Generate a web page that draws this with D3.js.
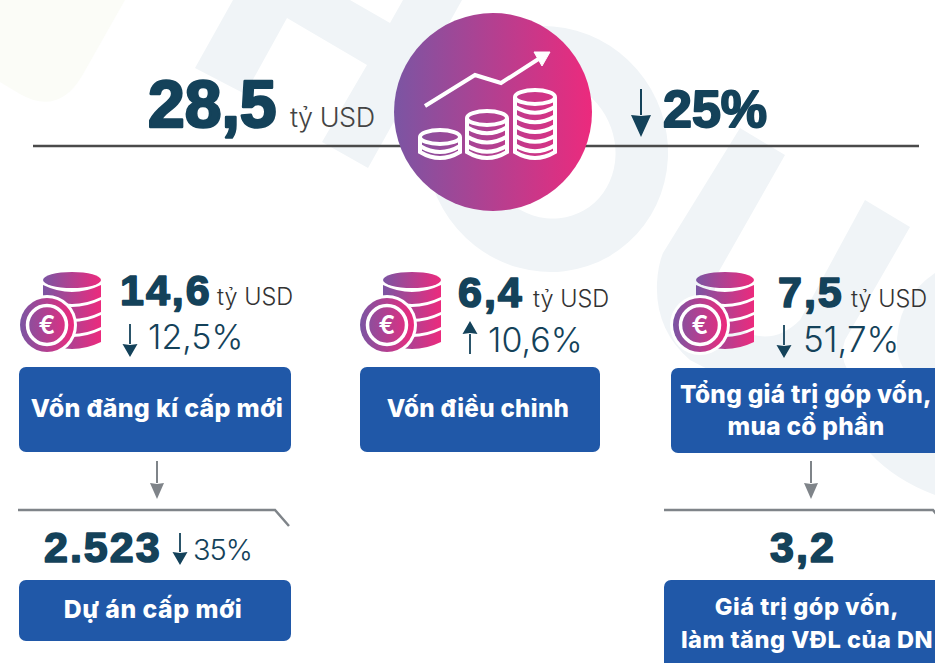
<!DOCTYPE html>
<html>
<head>
<meta charset="utf-8">
<script src="https://cdn.jsdelivr.net/npm/d3@7"></script>
<style>
    html, body { margin: 0; padding: 0; background: #fff; overflow: hidden; }
    text { font-family: Inter, "Noto Sans", sans-serif; }
    text.num { font-family: "Liberation Sans", Arial, sans-serif; font-weight: 700; }
</style>
</head>
<body>
<div id="chart"></div>
<script>
// chart values
var totalValue = "28,5";
var totalUnit = "tỷ USD";
var totalChange = "25%";
var totalDirection = "down";

var groupValues = ["14,6", "6,4", "7,5"];
var groupChanges = ["12,5%", "10,6%", "51,7%"];
var groupDirections = ["down", "up", "down"];
var groupLabels = [
    ["Vốn đăng kí cấp mới"],
    ["Vốn điều chỉnh"],
    ["Tổng giá trị góp vốn,", "mua cổ phần"]
];

var subValues = ["2.523", "3,2"];
var subChanges = ["35%", ""];
var subDirections = ["down", ""];
var subLabels = [
    ["Dự án cấp mới"],
    ["Giá trị góp vốn,", "làm tăng VĐL của DN"]
];

// design specific variables
var width = 935, height = 663;
var navy = "#14425a", blue = "#2058a8", grey = "#7f8489", pale = "#f0f4f7";

var groupBoxes = [
    {x: 19, y: 367, w: 272, h: 85, cx: 157, font: 25, icon: 20, valueX: 120, unitX: 217, arrowX: 130, changeX: 148, lineY: [417]},
    {x: 360, y: 367, w: 240, h: 85, cx: 478, font: 24.2, icon: 360, valueX: 458, unitX: 533, arrowX: 470, changeX: 488, lineY: [417]},
    {x: 671, y: 368, w: 275, h: 85, cx: 806, font: 24.4, icon: 673, valueX: 778, unitX: 851, arrowX: 784, changeX: 803, lineY: [403, 435]}
];
var subBoxes = [
    {x: 19, y: 580, w: 272, h: 61, cx: 153, font: 24.8, lineY: [618], valueX: 44, valueAnchor: "start", arrowX: 180, changeX: 193, bend: [18, 275, 289, 526], fromX: 157},
    {x: 664, y: 580, w: 285, h: 100, cx: 807, font: 23.6, lineY: [615, 648], valueX: 803, valueAnchor: "middle", bend: [664, 933, 941, 520], fromX: 811}
];

var svg = d3.select("#chart").append("svg")
    .attr("width", width)
    .attr("height", height)
    .style("display", "block");

var defs = svg.append("defs");
var grad = defs.append("linearGradient").attr("id", "pinkGrad");
grad.append("stop").attr("offset", "0%").attr("stop-color", "#7b55a3");
grad.append("stop").attr("offset", "100%").attr("stop-color", "#ec2a7d");

drawWatermark();
drawHeader();

groupBoxes.forEach(function (b, i) {
    drawCoinIcon(b.icon, 272);
    heavyText(b.valueX, i == 0 ? 305 : 307, 43, groupValues[i]).attr("letter-spacing", 2);
    svg.append("text").attr("x", b.unitX).attr("y", i == 0 ? 305 : 307)
        .attr("font-size", 23.5).attr("font-weight", 300).attr("fill", "#333")
        .text(totalUnit);
    var top = groupDirections[i] == "up" ? 321 : (i == 0 ? 324 : 325);
    drawArrow(b.arrowX, top, top + 33, groupDirections[i], navy, 1.8, 15, 13);
    svg.append("text").attr("x", b.changeX).attr("y", i == 0 ? 349 : 352)
        .attr("font-size", i == 2 ? 35 : 34).attr("font-weight", 300).attr("fill", navy)
        .text(groupChanges[i]);
    drawBox(b, groupLabels[i], b.font, 0.3);
});

subBoxes.forEach(function (b, i) {
    drawArrow(b.fromX, 461, 499, "down", grey, 2, 14, 16);
    svg.append("path")
        .attr("d", "M" + b.bend[0] + ",510L" + b.bend[1] + ",510L" + b.bend[2] + "," + b.bend[3])
        .attr("fill", "none").attr("stroke", grey).attr("stroke-width", 2.5);
    heavyText(b.valueX, 562, 43, subValues[i])
        .attr("text-anchor", b.valueAnchor)
        .attr("letter-spacing", 2);
    if (subChanges[i]) {
        drawArrow(b.arrowX, 533, 565, subDirections[i], navy, 1.8, 15, 13);
        svg.append("text").attr("x", b.changeX).attr("y", 560)
            .attr("font-size", 29).attr("font-weight", 300).attr("fill", navy)
            .attr("letter-spacing", -1)
            .text(subChanges[i]);
    }
    drawBox(b, subLabels[i], b.font, 0.5);
});

// the numbers are a very heavy face, so thicken the bold with a stroke
function heavyText(x, y, size, label) {
    return svg.append("text").attr("class", "num")
        .attr("x", x).attr("y", y)
        .attr("font-size", size)
        .attr("fill", navy)
        .attr("stroke", navy)
        .attr("stroke-width", size / 26)
        .attr("stroke-linejoin", "round")
        .text(label);
}

function drawWatermark() {
    var g = svg.append("g");
    // yellow corner
    g.append("path")
        .attr("d", "M0,0L125,0L82,76Q58,116 20,94L0,82Z")
        .attr("fill", "#fbfcf7");
    // H
    g.append("path")
        .attr("d", "M233,0L350,0L390,23L403,0L462,0L368,168L322,142L367,65L287,18L245,94L195,68Z")
        .attr("fill", pale);
    // O
    g.append("ellipse")
        .attr("transform", "translate(547,149) rotate(60)")
        .attr("rx", 124).attr("ry", 120)
        .attr("fill", pale);
    g.append("ellipse")
        .attr("transform", "translate(548,148) rotate(60)")
        .attr("rx", 72).attr("ry", 66)
        .attr("fill", "#fff");
    // U
    g.append("path")
        .attr("d", "M740,128L785,155L718,273Q705,310 745,332Q775,345 800,320L865,200L910,227L845,340Q835,370 870,390L935,420L935,495Q895,480 870,453L690,360Q655,330 657,283Q658,265 663,253Z")
        .attr("fill", pale);
    // start of the next letter, cut by the right edge
    g.append("path")
        .attr("d", "M935,273Q895,300 897,350Q900,375 935,400Z")
        .attr("fill", pale);
}

function drawHeader() {
    svg.append("line")
        .attr("x1", 33).attr("x2", 919)
        .attr("y1", 146).attr("y2", 146)
        .attr("stroke", "#4a4a4a").attr("stroke-width", 2.5);

    svg.append("circle")
        .attr("cx", 493).attr("cy", 112).attr("r", 99)
        .attr("fill", "url(#pinkGrad)");

    var white = svg.append("g").attr("fill", "none").attr("stroke", "#fff")
        .attr("stroke-width", 4);
    white.append("path")
        .attr("d", "M425,106L475,75L501,83L540,58");
    white.append("path")
        .attr("d", "M534,52L550,52L542,66Z")
        .attr("fill", "#fff").attr("stroke-width", 1);

    drawStack(white, 440, 137, 1);
    drawStack(white, 487, 118, 3);
    drawStack(white, 535, 97, 5);

    heavyText(148, 127, 66, totalValue);
    svg.append("text").attr("x", 290).attr("y", 127)
        .attr("font-size", 27).attr("font-weight", 300).attr("fill", "#444")
        .attr("letter-spacing", -0.5)
        .text(totalUnit);

    drawArrow(641, 89, 137, totalDirection, navy, 2, 20, 22);
    heavyText(663, 127, 52, totalChange);
}

// stack of coins seen from above, all stacks stand on the same bottom line
function drawStack(g, cx, top, lines) {
    var rx = 20, ry = 7, bottom = 158;
    var step = (bottom - top - 3) / (lines + 1);
    g.append("ellipse").attr("cx", cx).attr("cy", top).attr("rx", rx).attr("ry", ry);
    g.append("path")
        .attr("d", "M" + (cx - rx) + "," + top + "L" + (cx - rx) + "," + (bottom - 6)
            + "Q" + cx + "," + (bottom + 6) + " " + (cx + rx) + "," + (bottom - 6)
            + "L" + (cx + rx) + "," + top);
    d3.range(1, lines + 1).forEach(function (k) {
        var y = top + k * step;
        g.append("path")
            .attr("d", "M" + (cx - rx) + "," + y + "Q" + cx + "," + (y + 12) + " " + (cx + rx) + "," + y);
    });
}

function drawCoinIcon(x, y) {
    var g = svg.append("g").attr("transform", "translate(" + x + "," + y + ")");
    var cx = 52, rx = 29;
    // top disc
    g.append("ellipse").attr("cx", cx).attr("cy", 8).attr("rx", rx).attr("ry", 8)
        .attr("fill", "url(#pinkGrad)");
    // bands
    d3.range(0, 4).forEach(function (k) {
        var y0 = 13 + k * 15, y1 = y0 + 12;
        g.append("path")
            .attr("d", "M" + (cx - rx) + "," + y0 + "Q" + cx + "," + (y0 + 14) + " " + (cx + rx) + "," + y0
                + "L" + (cx + rx) + "," + y1 + "Q" + cx + "," + (y1 + 14) + " " + (cx - rx) + "," + y1 + "Z")
            .attr("fill", "url(#pinkGrad)");
    });
    // coin in front
    g.append("circle").attr("cx", 27).attr("cy", 53).attr("r", 30).attr("fill", "#fff");
    g.append("circle").attr("cx", 27).attr("cy", 53).attr("r", 27).attr("fill", "url(#pinkGrad)");
    g.append("circle").attr("cx", 27).attr("cy", 53).attr("r", 19.5)
        .attr("fill", "none").attr("stroke", "#fff").attr("stroke-width", 3.5);
    g.append("text").attr("x", 27).attr("y", 62)
        .attr("text-anchor", "middle")
        .attr("font-size", 25).attr("font-weight", 600).attr("fill", "#fff")
        .text("€");
}

function drawArrow(x, y0, y1, dir, color, sw, headW, headH) {
    var tip = dir == "up" ? y0 : y1;
    var tail = dir == "up" ? y1 : y0;
    var base = dir == "up" ? y0 + headH : y1 - headH;
    svg.append("line")
        .attr("x1", x).attr("x2", x).attr("y1", tail).attr("y2", base)
        .attr("stroke", color).attr("stroke-width", sw);
    svg.append("path")
        .attr("d", "M" + (x - headW / 2) + "," + base + "L" + x + "," + tip + "L" + (x + headW / 2) + "," + base
            + "L" + x + "," + (dir == "up" ? base - 1 : base + 1) + "Z")
        .attr("fill", color);
}

function drawBox(b, lines, fontSize, spacing) {
    svg.append("rect")
        .attr("x", b.x).attr("y", b.y).attr("width", b.w).attr("height", b.h)
        .attr("rx", 7).attr("ry", 7)
        .attr("fill", blue);
    svg.selectAll(null)
        .data(lines)
        .enter().append("text")
        .attr("x", b.cx)
        .attr("y", function (d, i) { return b.lineY[i]; })
        .attr("text-anchor", "middle")
        .attr("font-size", fontSize)
        .attr("font-weight", 800)
        .attr("letter-spacing", spacing)
        .attr("fill", "#fff")
        .text(function (d) { return d; });
}
</script>
</body>
</html>
